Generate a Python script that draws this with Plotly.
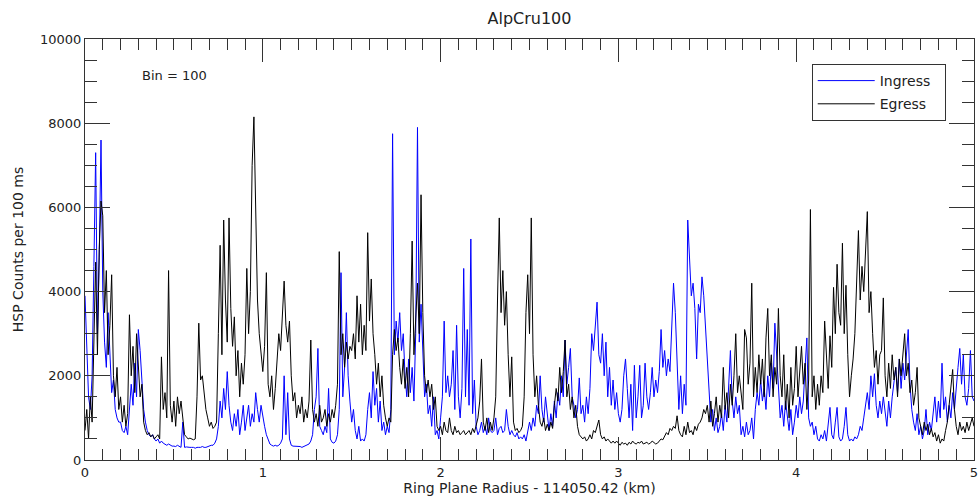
import numpy as np
import plotly.graph_objects as go

# Ring plane radius offset (km), sampled every 0.01 km from 0 to 5
radius = np.round(np.arange(501) * 0.01, 2)

ingress = [
    3900, 2500, 1500, 1200, 2000, 4600, 7300, 3000, 4800, 7600,
    4000, 2800, 2200, 3500, 2400, 1600, 1900, 1200, 1000, 900,
    900, 700, 650, 800, 600, 1100, 1800, 1300, 2300, 1500,
    3100, 2600, 1800, 1200, 900, 700, 600, 550, 600, 500,
    450, 500, 400, 450, 400, 380, 350, 380, 350, 330,
    330, 320, 350, 330, 300, 900, 300, 310, 300, 300,
    300, 300, 280, 300, 300, 300, 320, 300, 300, 320,
    330, 350, 350, 400, 500, 800, 1400, 1000, 1700, 1200,
    2100, 1300, 900, 700, 1100, 800, 1200, 600, 900, 1300,
    700, 1000, 1300, 800, 1100, 900, 1600, 1200, 900, 1300,
    1000, 800, 600, 500, 380, 350, 330, 350, 330, 350,
    400, 500, 2000, 600, 1600, 500, 350, 330, 330, 320,
    330, 320, 300, 320, 330, 350, 380, 450, 600, 1200,
    1500, 2650, 800, 700, 600, 800, 650, 1700, 500, 420,
    400, 450, 600, 1200, 4450, 1500, 2200, 3500, 2000, 1400,
    900, 1200, 700, 500, 800, 450, 500, 450, 600, 1200,
    1600, 1000, 2100, 1300, 1700, 900, 1400, 700, 900, 600,
    800, 650, 1200, 7750, 2500, 3300, 2800, 3500, 2600, 3000,
    2000, 1500, 2400, 1600, 2200, 1400, 3000, 7900, 2800, 3700,
    2500, 1500, 1800, 1100, 1300, 800, 1500, 600, 700, 500,
    1000, 1500, 3300, 1600, 2000, 1500, 1800, 2600, 1200, 3200,
    1500, 1000, 1700, 4550, 1500, 3100, 1300, 5250, 1100, 1900,
    800, 600, 700, 900, 650, 800, 600, 1000, 700, 650,
    700, 1000, 600, 750, 800, 650, 700, 1200, 800, 600,
    700, 600, 550, 650, 500, 550, 500, 600, 450, 700,
    900, 700, 1000, 800, 1300, 1100, 2000, 1200, 900, 1500,
    1000, 700, 1100, 800, 1400, 1000, 1600, 1300, 2000, 1500,
    2850, 1800, 2200, 2650, 1500, 1300, 1000, 1200, 1950, 1100,
    1300, 900, 1500, 1100, 1700, 3000, 2600, 3300, 3750, 2500,
    2300, 3000, 2000, 2800, 1500, 2200, 1300, 1900, 1200, 1600,
    1100, 900, 1200, 2000, 2400, 1700, 1000, 1800, 700, 2250,
    1000, 1500, 2250, 1000, 1300, 2300, 1500, 1200, 1600, 2200,
    1500, 1900, 1600, 2100, 3100, 2200, 2600, 2000, 2400, 2100,
    3200, 4200, 3500, 2500, 1200, 2000, 1100, 1800, 1300, 5700,
    4800, 3900, 4200, 3600, 2400, 3700, 3500, 4350, 3900, 3100,
    2200, 1400, 900, 1200, 700, 1000, 650, 800, 1100, 700,
    1300, 900, 1800, 2600, 1400, 1000, 1500, 1100, 1300, 600,
    800, 550, 900, 600, 700, 1000, 500, 1200, 1600, 1300,
    1900, 1400, 1700, 1200, 2000, 1500, 2300, 1700, 3250, 2500,
    1500, 1000, 1300, 800, 1400, 1100, 700, 1200, 600, 900,
    1300, 1000, 1500, 1100, 1400, 2200, 2900, 1000, 800, 900,
    600, 800, 500, 450, 600, 500, 700, 450, 800, 1250,
    600, 500, 900, 1250, 550, 450, 500, 800, 1250, 600,
    450, 500, 450, 550, 500, 600, 800, 700, 1000, 1300,
    1600, 1200, 2000, 1500, 2050, 1300, 1000, 1400, 1100, 1500,
    1200, 800, 1400, 1000, 1500, 1800, 2200, 1600, 2400, 1700,
    2300, 1900, 2500, 3100, 1800, 1200, 900, 700, 1100, 600,
    800, 500, 700, 1200, 600, 900, 700, 1100, 1500, 900,
    1400, 1000, 2300, 1200, 1500, 900, 1300, 1000, 1600, 1200,
    1800, 2200, 2650, 1800, 2500, 1500, 1300, 1700, 2600, 1500,
    1400,
]

egress = [
    700, 1200, 500, 1500, 900, 3000, 4700, 2500, 5000, 6150,
    5800, 3500, 4500, 2500, 3200, 4400, 2000, 1500, 2200, 1200,
    1500, 900, 1300, 800, 1100, 3450, 2000, 2700, 1600, 3000,
    2200, 1500, 1800, 900, 700, 600, 650, 550, 600, 500,
    550, 600, 500, 2450, 1200, 1600, 1000, 4500, 1300, 900,
    1400, 800, 1500, 1100, 1400, 900, 600, 550, 500, 520,
    500, 480, 500, 1500, 3250, 1900, 2000, 1500, 1200, 1000,
    800, 900, 750, 800, 900, 3000, 5100, 2500, 5700, 3800,
    2800, 5750, 3600, 2700, 3400, 2000, 2600, 1500, 2300, 1800,
    2500, 4550, 3000, 4000, 7000, 8150, 6000, 3800, 3000, 2600,
    2100, 2700, 4450, 1800, 1500, 2000, 1200, 1700, 2500, 3000,
    2600, 3500, 4250, 3200, 2800, 3300, 2000, 1400, 1600, 1000,
    1300, 1100, 1500, 900, 1200, 1000, 1400, 2850, 1200, 900,
    1100, 800, 1300, 900, 1000, 1200, 800, 1100, 900, 1200,
    1000, 1300, 1800, 4950, 2500, 3000, 2200, 2800, 2400, 2700,
    2600, 3000, 2400, 3900, 2800, 3700, 2500, 3200, 2600, 5400,
    3300, 4300, 3000, 2500, 1800, 2300, 1500, 2000, 1300, 1000,
    800, 1000, 900, 2500, 3100, 2600, 2900, 2200, 1800, 2400,
    1700, 2200, 1500, 3000, 5200, 2500, 3500, 4200, 3000, 6300,
    3500, 2000, 1600, 1900, 1500, 1800, 1200, 1500, 800, 700,
    800, 600, 900, 700, 650, 1000, 700, 600, 800, 650,
    700, 600, 650, 700, 600, 650, 700, 600, 750, 650,
    800, 1000, 1400, 2400, 900, 700, 1000, 650, 900, 700,
    1000, 1500, 3800, 5750, 3500, 4500, 3200, 4000, 2500, 1500,
    2450, 900, 700, 750, 650, 700, 800, 1500, 3500, 4400,
    3000, 5750, 2500, 1500, 2000, 1300, 900, 800, 1000, 700,
    850, 700, 900, 750, 1300, 1700, 1400, 2200, 1600, 2100,
    2850, 1500, 1800, 1200, 1500, 1000, 1300, 800, 600, 550,
    500, 550, 450, 500, 600, 500, 700, 650, 800, 950,
    600, 500, 550, 450, 500, 450, 400, 450, 400, 450,
    400, 350, 420, 380, 400, 350, 420, 380, 450, 400,
    380, 420, 400, 450, 380, 400, 420, 380, 400, 450,
    420, 380, 400, 450, 500, 480, 550, 650, 600, 750,
    700, 800, 750, 1050, 700, 600, 550, 800, 600, 900,
    650, 700, 600, 800, 700, 850, 900, 1000, 1200, 1100,
    1300, 900, 1400, 800, 1100, 1500, 900, 1300, 1000, 2200,
    1200, 1600, 1000, 1800, 1300, 2000, 3000, 1600, 2000, 1500,
    1200, 3100, 2900, 1800, 2300, 4200, 1500, 2200, 1600, 2500,
    1800, 2400, 1500, 2900, 3600, 2000, 2500, 1500, 2200, 1800,
    3600, 2000, 1500, 2500, 1200, 1800, 1000, 2200, 1300, 1700,
    2700, 1500, 2200, 2700, 1800, 2300, 1200, 1900, 5950, 1500,
    2000, 1200, 1800, 1300, 2000, 1600, 3300, 2500, 1700, 2950,
    2200, 4100, 3000, 4650, 3500, 3200, 5150, 3000, 4150, 2500,
    1500, 2000, 2400, 3000, 4500, 5450, 3800, 4600, 4000, 4800,
    5900, 3500, 4000, 3000, 2200, 2600, 1800, 2500, 2600, 3850,
    2000, 1500, 2300, 1700, 2500, 1900, 2200, 1500, 2400, 2000,
    2600, 3000, 2000, 2300, 1600, 1900, 1300, 1600, 2200, 1000,
    800, 600, 900, 700, 850, 600, 750, 550, 650, 450,
    600, 400, 500, 450, 700, 900, 1300, 1800, 2150, 1200,
    800, 600, 900, 700, 800, 650, 900, 700, 850, 1000,
    800,
]

x_tickvals = [0, 1, 2, 3, 4, 5]
x_ticktext = ["0", "1", "2", "3", "4", "5"]
y_tickvals = [0, 2000, 4000, 6000, 8000, 10000]
y_ticktext = ["0", "2000", "4000", "6000", "8000", "10000"]

FONT = "DejaVu Sans"
AX = "#333333"

fig = go.Figure()
fig.add_trace(go.Scatter(x=radius, y=ingress, mode="lines", name="Ingress  ",
                         legendgroup="a",
                         line=dict(color="#0000ff", width=1)))
fig.add_trace(go.Scatter(x=radius, y=egress, mode="lines", name="Egress",
                         legendgroup="b",
                         line=dict(color="#000000", width=1)))

fig.update_layout(
    width=979, height=498,
    margin=dict(l=85, r=1, t=39, b=38, pad=0),
    paper_bgcolor="white", plot_bgcolor="white",
    font=dict(family=FONT, size=13, color="#222222"),
    title=dict(text="AlpCru100", x=0.5, xref="paper", xanchor="center",
               y=1 - 18 / 498, yref="container", yanchor="middle",
               font=dict(size=16, color="#222222")),
    showlegend=True,
    legend=dict(x=(815 - 85) / 893, y=(460 - 64) / 421, xanchor="left", yanchor="top",
                bordercolor=AX, borderwidth=1, bgcolor="white",
                itemwidth=57, tracegroupgap=2, traceorder="grouped",
                font=dict(size=14, color="#222222")),
    xaxis=dict(range=[0, 5], tickvals=x_tickvals, ticktext=x_ticktext,
               ticks="inside", ticklen=23, tickwidth=1, tickcolor=AX,
               showline=True, linecolor=AX, linewidth=1, mirror="ticks",
               showgrid=False, zeroline=False, ticklabeloverflow="allow",
               minor=dict(dtick=0.1, tick0=0, ticks="inside", ticklen=11,
                          tickcolor=AX, tickwidth=1, showgrid=False),
               tickfont=dict(size=13),
               title=dict(text="Ring Plane Radius - 114050.42 (km)",
                          font=dict(size=14), standoff=1)),
    yaxis=dict(range=[0, 10000], tickvals=y_tickvals, ticktext=y_ticktext,
               ticks="inside", ticklen=25, tickwidth=1, tickcolor=AX,
               showline=True, linecolor=AX, linewidth=1, mirror="ticks",
               showgrid=False, zeroline=False,
               minor=dict(dtick=500, tick0=0, ticks="inside", ticklen=12,
                          tickcolor=AX, tickwidth=1, showgrid=False),
               tickfont=dict(size=13),
               title=dict(text="HSP Counts per 100 ms", font=dict(size=14), standoff=13)),
)

fig.add_annotation(text="Bin = 100", xref="paper", yref="paper",
                   x=(140 - 85) / 893, y=(460 - 76) / 421,
                   xanchor="left", yanchor="middle", showarrow=False,
                   font=dict(size=13, color="#222222"))

fig.write_html("out.html")
